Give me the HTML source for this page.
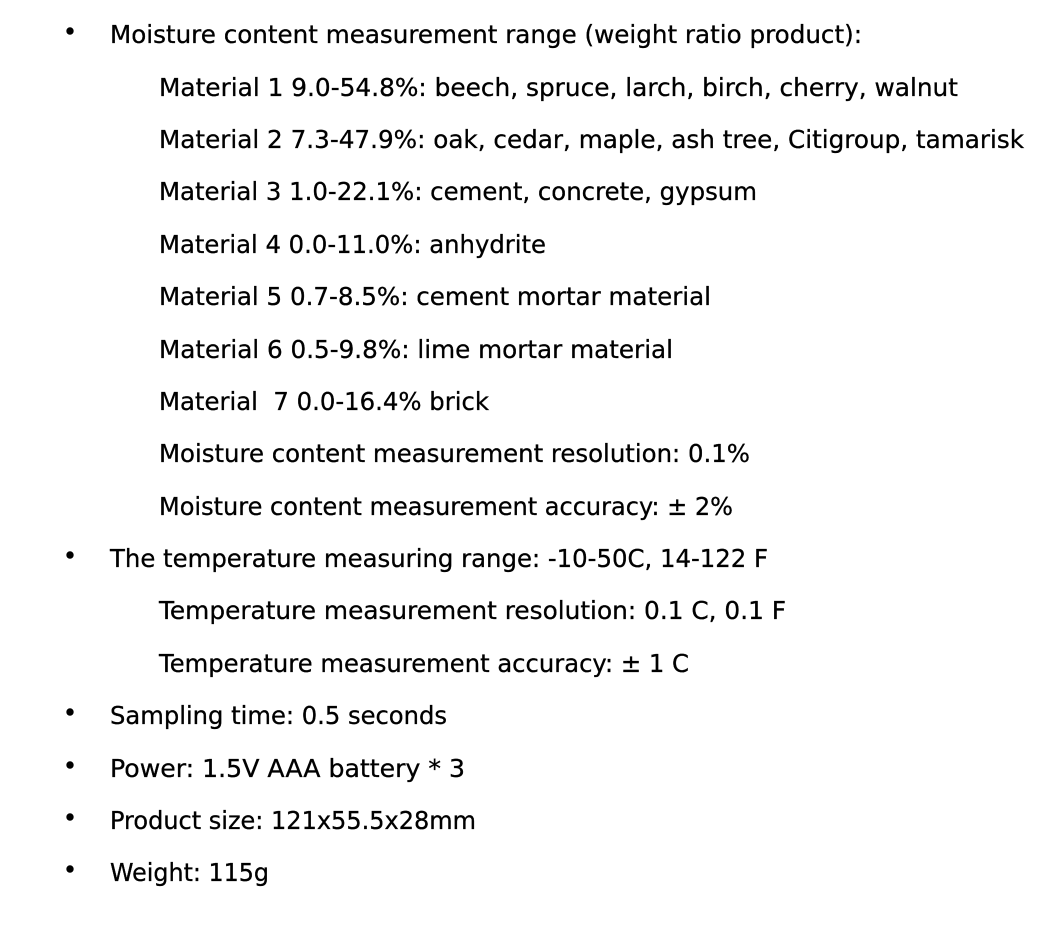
<!DOCTYPE html>
<html>
<head>
<meta charset="utf-8">
<style>
  html,body{margin:0;padding:0;background:#fff;}
  svg{display:block;}
  text{font-family:"DejaVu Sans","Liberation Sans",sans-serif;font-size:25px;fill:#000;stroke:#000;stroke-width:0.3;}
</style>
</head>
<body>
<svg width="1064" height="926" viewBox="0 0 1064 926">
  <g>
    <circle cx="70" cy="31" r="3.7"/>
    <circle cx="70" cy="555" r="3.7"/>
    <circle cx="70" cy="712" r="3.7"/>
    <circle cx="70" cy="765" r="3.7"/>
    <circle cx="70" cy="817" r="3.7"/>
    <circle cx="70" cy="869" r="3.7"/>
  </g>
  <text x="110" y="43" textLength="752" lengthAdjust="spacingAndGlyphs">Moisture content measurement range (weight ratio product):</text>
  <text x="159" y="96" textLength="799" lengthAdjust="spacingAndGlyphs">Material 1 9.0-54.8%: beech, spruce, larch, birch, cherry, walnut</text>
  <text x="159" y="148" textLength="865" lengthAdjust="spacingAndGlyphs">Material 2 7.3-47.9%: oak, cedar, maple, ash tree, Citigroup, tamarisk</text>
  <text x="159" y="200" textLength="598" lengthAdjust="spacingAndGlyphs">Material 3 1.0-22.1%: cement, concrete, gypsum</text>
  <text x="159" y="253" textLength="387" lengthAdjust="spacingAndGlyphs">Material 4 0.0-11.0%: anhydrite</text>
  <text x="159" y="305" textLength="552" lengthAdjust="spacingAndGlyphs">Material 5 0.7-8.5%: cement mortar material</text>
  <text x="159" y="358" textLength="514" lengthAdjust="spacingAndGlyphs">Material 6 0.5-9.8%: lime mortar material</text>
  <text x="159" y="410" textLength="330" lengthAdjust="spacingAndGlyphs" xml:space="preserve">Material  7 0.0-16.4% brick</text>
  <text x="159" y="462" textLength="591" lengthAdjust="spacingAndGlyphs">Moisture content measurement resolution: 0.1%</text>
  <text x="159" y="515" textLength="574" lengthAdjust="spacingAndGlyphs">Moisture content measurement accuracy: ± 2%</text>
  <text x="110" y="567" textLength="658" lengthAdjust="spacingAndGlyphs">The temperature measuring range: -10-50C, 14-122 F</text>
  <text x="159" y="619" textLength="627" lengthAdjust="spacingAndGlyphs">Temperature measurement resolution: 0.1 C, 0.1 F</text>
  <text x="159" y="672" textLength="530" lengthAdjust="spacingAndGlyphs">Temperature measurement accuracy: ± 1 C</text>
  <text x="110" y="724" textLength="337" lengthAdjust="spacingAndGlyphs">Sampling time: 0.5 seconds</text>
  <text x="110" y="777" textLength="355" lengthAdjust="spacingAndGlyphs">Power: 1.5V AAA battery * 3</text>
  <text x="110" y="829" textLength="366" lengthAdjust="spacingAndGlyphs">Product size: 121x55.5x28mm</text>
  <text x="110" y="881" textLength="159" lengthAdjust="spacingAndGlyphs">Weight: 115g</text>
</svg>
</body>
</html>
